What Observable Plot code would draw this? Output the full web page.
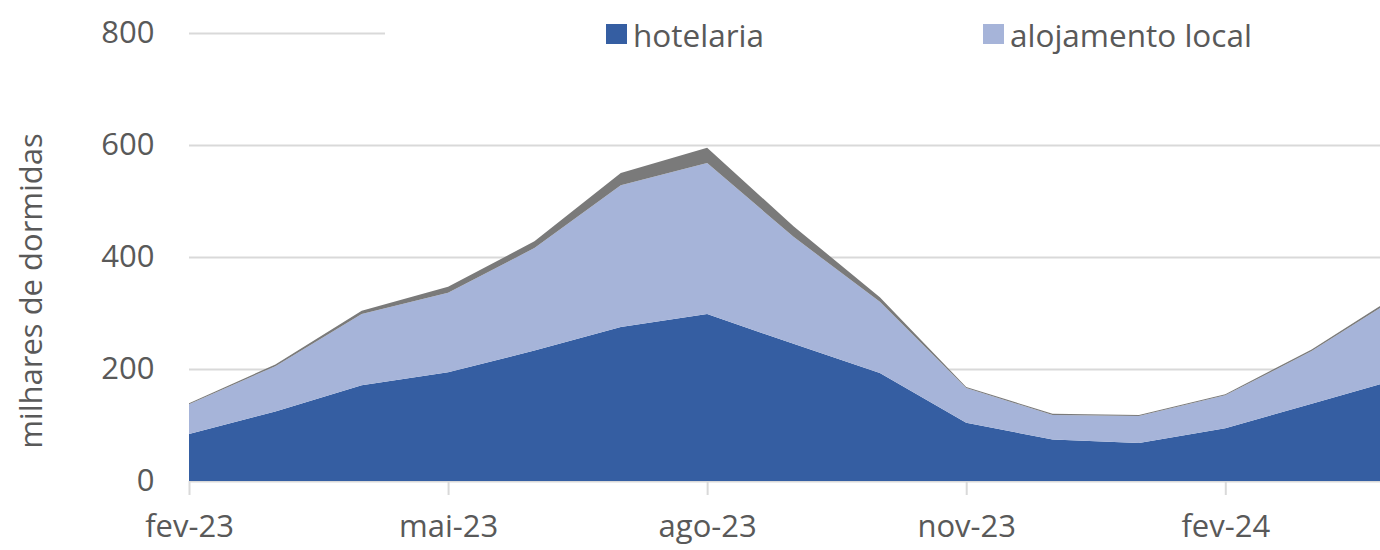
<!DOCTYPE html>
<html>
<head>
<meta charset="utf-8">
<script src="https://cdn.jsdelivr.net/npm/d3@7"></script>
<script src="https://cdn.jsdelivr.net/npm/@observablehq/plot@0.6"></script>
<style>
  html, body { margin: 0; padding: 0; background: #fff; overflow: hidden; }
  #wrap { position: relative; width: 1380px; height: 550px; overflow: hidden; font-family: "Open Sans", sans-serif; color: #595959; }
  #legend { position: absolute; left: 385px; top: 8px; width: 995px; height: 52px; background: #fff; }
  .item { position: absolute; top: 0; height: 52px; display: flex; align-items: center; font-size: 31.5px; white-space: nowrap; }
  .sw { width: 21px; height: 20px; margin-right: 6px; }
  #ytitle { position: absolute; left: 30px; top: 291px; transform: translate(-50%, -50%) rotate(-90deg); font-size: 31px; white-space: nowrap; }
  svg [aria-label="x-axis"] line, svg [aria-label="x-axis tick"] path { stroke: #d9d9d9; stroke-width: 2px; }
</style>
</head>
<body>
<div id="wrap">
  <div id="chart"></div>
  <div id="legend"></div>
  <div id="ytitle">milhares de dormidas</div>
</div>
<script>
// ---- data ----
const months = ["fev-23","mar-23","abr-23","mai-23","jun-23","jul-23","ago-23","set-23","out-23","nov-23","dez-23","jan-24","fev-24","mar-24","abr-24"];
const hotelaria = [84, 124, 171, 194, 233, 275, 298, 245, 193, 104, 74, 68, 94, 138, 182];
const alojamentoLocal = [53, 81, 127, 142, 183, 253, 270, 191, 127, 62, 44, 48, 59, 94, 147];
const outros = [2, 3, 6, 11, 12, 22, 27, 19, 8, 2, 2, 2, 2, 3, 4];
const seriesNames = ["hotelaria", "alojamento local", "outros"];
const seriesColors = ["#355ea2", "#a6b4d9", "#7a7a7a"];
const legendNames = ["hotelaria", "alojamento local"];
const xTickLabels = ["fev-23", "mai-23", "ago-23", "nov-23", "fev-24"];
const yTicks = [0, 200, 400, 600, 800];

// ---- build table ----
const seriesValues = [hotelaria, alojamentoLocal, outros];
const data = [];
seriesNames.forEach((s, i) => {
  months.forEach((m, j) => data.push({idx: j, month: m, series: s, value: seriesValues[i][j]}));
});
const tickIdx = xTickLabels.map(l => months.indexOf(l));

const chart = Plot.plot({
  width: 1380,
  height: 550,
  marginTop: 33,
  marginBottom: 69,
  marginLeft: 189,
  marginRight: 0,
  style: {fontFamily: "'Open Sans', sans-serif", fontSize: "31px", color: "#595959", background: "#fff", overflow: "hidden"},
  x: {type: "linear", domain: [0, months.length - 1], range: [189, 1398],
      ticks: tickIdx, tickFormat: i => months[i], tickSize: 14, tickPadding: 19, label: null},
  y: {domain: [0, 800], range: [481, 33], ticks: yTicks, tickSize: 0, tickPadding: 35, label: null},
  color: {domain: seriesNames, range: seriesColors},
  marks: [
    Plot.ruleY(yTicks, {stroke: "#d9d9d9", strokeWidth: 2}),
    Plot.areaY(data, {x: "idx", y: "value", fill: "series", z: "series"})
  ]
});
document.getElementById("chart").appendChild(chart);

// ---- legend ----
const legend = document.getElementById("legend");
const legendLeft = [606 - 385, 983 - 385];
legendNames.forEach((name, i) => {
  const it = document.createElement("div");
  it.className = "item";
  it.style.left = legendLeft[i] + "px";
  const sw = document.createElement("span");
  sw.className = "sw";
  sw.style.background = seriesColors[seriesNames.indexOf(name)];
  it.appendChild(sw);
  it.appendChild(document.createTextNode(name));
  legend.appendChild(it);
});
</script>
</body>
</html>
